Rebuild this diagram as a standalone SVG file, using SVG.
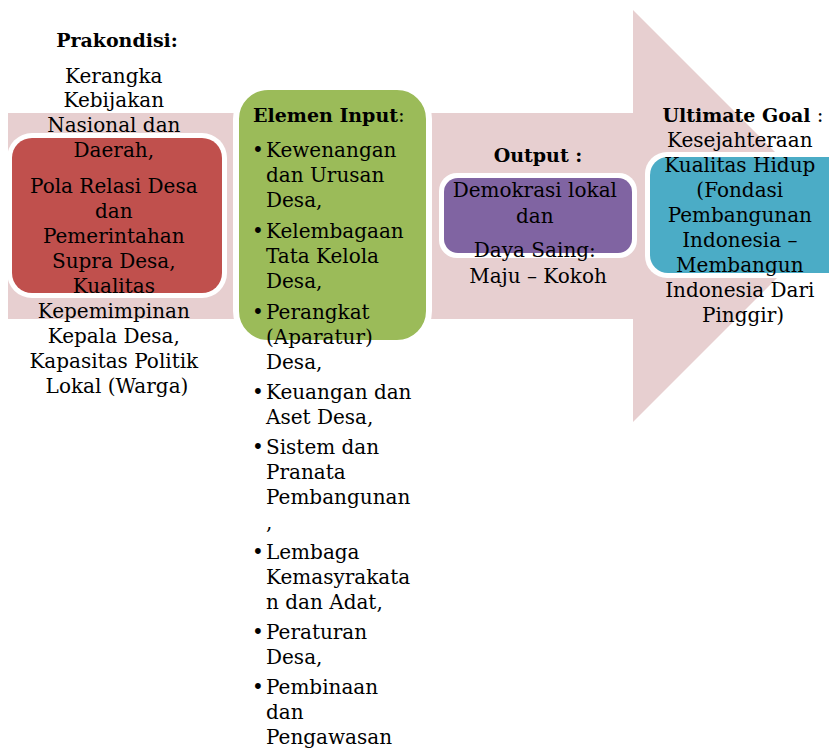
<svg xmlns="http://www.w3.org/2000/svg" width="829" height="749" viewBox="0 0 829 749">
  <style>
    text { font-family: "DejaVu Serif", "Liberation Serif", serif; font-size: 20px; fill: #000; }
    .b { font-weight: bold; font-size: 19px; }
    .c { text-anchor: middle; }
    .halo { fill: #fff; }
  </style>
  <rect width="829" height="749" fill="#fff"/>

  <!-- Block arrow carrying the flow from left to right -->
  <g id="connectors">
    <path d="M8,113 H633 V10 L839,216 L633,422 V319 H8 Z" fill="#E7CFD0"/>
  </g>

  <!-- Prakondisi -->
  <g id="node-prakondisi">
    <rect x="7" y="133" width="220" height="165" rx="25" class="halo"/>
    <rect x="12" y="138" width="210" height="155" rx="20" fill="#C0504D"/>
    <text x="117" y="47" class="c b">Prakondisi:</text>
    <text class="c">
      <tspan x="117" y="83">Kerangka</tspan>
      <tspan x="117" y="107">Kebijakan</tspan>
      <tspan x="117" y="132">Nasional dan</tspan>
      <tspan x="117" y="157">Daerah,</tspan>
      <tspan x="117" y="193">Pola Relasi Desa</tspan>
      <tspan x="117" y="218">dan</tspan>
      <tspan x="117" y="243">Pemerintahan</tspan>
      <tspan x="117" y="268">Supra Desa,</tspan>
      <tspan x="117" y="293">Kualitas</tspan>
      <tspan x="117" y="318">Kepemimpinan</tspan>
      <tspan x="117" y="343">Kepala Desa,</tspan>
      <tspan x="117" y="368">Kapasitas Politik</tspan>
      <tspan x="117" y="393">Lokal (Warga)</tspan>
    </text>
  </g>

  <!-- Elemen Input -->
  <g id="node-input">
    <rect x="236" y="87" width="193" height="256" rx="32" fill="#9BBB59" stroke="#fff" stroke-width="6"/>
    <text x="253" y="122"><tspan class="b">Elemen Input</tspan>:</text>
    <g>
      <text x="252" y="157">•</text>
      <text><tspan x="266" y="157">Kewenangan</tspan><tspan x="266" y="182">dan Urusan</tspan><tspan x="266" y="207">Desa,</tspan></text>
      <text x="252" y="238">•</text>
      <text><tspan x="266" y="238">Kelembagaan</tspan><tspan x="266" y="263">Tata Kelola</tspan><tspan x="266" y="288">Desa,</tspan></text>
      <text x="252" y="319">•</text>
      <text><tspan x="266" y="319">Perangkat</tspan><tspan x="266" y="344">(Aparatur)</tspan><tspan x="266" y="369">Desa,</tspan></text>
      <text x="252" y="399">•</text>
      <text><tspan x="266" y="399">Keuangan dan</tspan><tspan x="266" y="424">Aset Desa,</tspan></text>
      <text x="252" y="454">•</text>
      <text><tspan x="266" y="454">Sistem dan</tspan><tspan x="266" y="479">Pranata</tspan><tspan x="266" y="504">Pembangunan</tspan><tspan x="266" y="529">,</tspan></text>
      <text x="252" y="559">•</text>
      <text><tspan x="266" y="559">Lembaga</tspan><tspan x="266" y="584">Kemasyrakata</tspan><tspan x="266" y="609">n dan Adat,</tspan></text>
      <text x="252" y="639">•</text>
      <text><tspan x="266" y="639">Peraturan</tspan><tspan x="266" y="664">Desa,</tspan></text>
      <text x="252" y="694">•</text>
      <text><tspan x="266" y="694">Pembinaan</tspan><tspan x="266" y="719">dan</tspan><tspan x="266" y="744">Pengawasan</tspan></text>
    </g>
  </g>

  <!-- Output -->
  <g id="node-output">
    <rect x="439" y="173" width="198" height="85" rx="18" class="halo"/>
    <rect x="444" y="178" width="188" height="75" rx="14" fill="#8064A2"/>
    <text x="538" y="162" class="c b">Output :</text>
    <text class="c">
      <tspan x="538" y="197">Demokrasi lokal</tspan>
      <tspan x="538" y="223">dan</tspan>
      <tspan x="538" y="257">Daya Saing:</tspan>
      <tspan x="538" y="283">Maju – Kokoh</tspan>
    </text>
  </g>

  <!-- Ultimate Goal -->
  <g id="node-goal">
    <rect x="645" y="152" width="220" height="126" rx="22" class="halo"/>
    <rect x="650" y="157" width="210" height="116" rx="18" fill="#4BACC6"/>
    <text x="743" y="122" class="c"><tspan class="b">Ultimate Goal</tspan> :</text>
    <text class="c">
      <tspan x="743" y="147">Kesejahteraan</tspan>
      <tspan x="743" y="172">Kualitas Hidup</tspan>
      <tspan x="743" y="197">(Fondasi</tspan>
      <tspan x="743" y="222">Pembangunan</tspan>
      <tspan x="743" y="247">Indonesia –</tspan>
      <tspan x="743" y="272">Membangun</tspan>
      <tspan x="743" y="297">Indonesia Dari</tspan>
      <tspan x="743" y="322">Pinggir)</tspan>
    </text>
  </g>
</svg>
